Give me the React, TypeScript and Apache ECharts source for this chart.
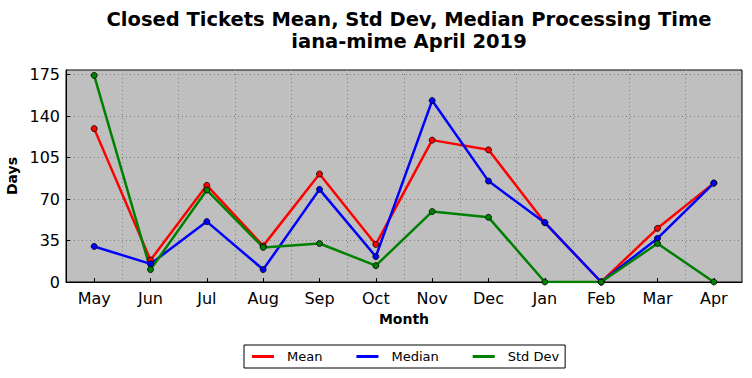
import React, { useEffect, useRef } from "react";
import * as echarts from "echarts";

const months = ["May", "Jun", "Jul", "Aug", "Sep", "Oct", "Nov", "Dec", "Jan", "Feb", "Mar", "Apr"];
const meanDays = [129.5, 18.5, 81.6, 30.5, 91.2, 31.7, 119.8, 111.6, 50.1, 0, 45.3, 83.5];
const medianDays = [30, 15.3, 51, 10.5, 78.2, 21.5, 153.2, 85.2, 50.1, 0, 36.8, 83.5];
const stdDays = [174.4, 10.5, 77.6, 29.2, 32.5, 13.8, 59.5, 54.6, 0, 0, 32.5, 0];
const yTicks = [0, 35, 70, 105, 140, 175];

export default function App() {
  const ref = useRef<HTMLDivElement>(null);
  useEffect(() => {
    if (!ref.current) return;
    const chart = echarts.init(ref.current, null, { renderer: "svg" });
    const font = "DejaVu Sans";
    const mk = (name: string, data: number[], color: string) => ({
      name,
      type: "line",
      data,
      symbol: "circle",
      symbolSize: 6,
      lineStyle: { color, width: 2.5 },
      itemStyle: { color, borderColor: "#000", borderWidth: 0.8 },
      emphasis: { disabled: true },
    });
    chart.setOption({
      animation: false,
      backgroundColor: "#fff",
      title: {
        text: "Closed Tickets Mean, Std Dev, Median Processing Time\niana-mime April 2019",
        left: 404,
        textAlign: "center",
        top: 3,
        textStyle: { fontFamily: font, fontSize: 19.5, fontWeight: "bold", color: "#000", lineHeight: 22 },
      },
      grid: {
        left: 66,
        right: 10,
        top: 70,
        bottom: 96,
        outerBoundsMode: "none",
        containLabel: false,
        show: true,
        backgroundColor: "#bfbfbf",
        borderColor: "#000",
        borderWidth: 1,
      },
      legend: {
        bottom: 10,
        left: 244,
        data: ["Mean", "Median", "Std Dev"],
        icon: "rect",
        itemWidth: 22,
        itemHeight: 3,
        itemGap: 34,
        padding: [5, 6, 5, 8],
        borderColor: "#000",
        borderWidth: 1,
        borderRadius: 0,
        itemStyle: { borderWidth: 0 },
        textStyle: { fontFamily: font, fontSize: 13, color: "#000", padding: [0, 0, 0, 8] },
      },
      xAxis: {
        type: "category",
        data: months,
        boundaryGap: true,
        name: "Month",
        nameLocation: "middle",
        nameGap: 30,
        nameTextStyle: { fontFamily: font, fontSize: 14, fontWeight: "bold", color: "#000" },
        axisLine: { show: true, lineStyle: { color: "#000" } },
        axisTick: { show: true, alignWithLabel: true, inside: true, length: 4, lineStyle: { color: "#000" } },
        axisLabel: { fontFamily: font, fontSize: 16, color: "#000", margin: 8 },
        splitLine: { show: true, lineStyle: { color: "#808080", type: [1, 3], width: 1 } },
      },
      yAxis: {
        type: "value",
        min: 0,
        max: 179,
        interval: 35,
        name: "Days",
        nameLocation: "middle",
        nameGap: 42,
        nameTextStyle: { fontFamily: font, fontSize: 14, fontWeight: "bold", color: "#000" },
        axisLine: { show: true, lineStyle: { color: "#000" } },
        axisTick: { show: true, inside: true, length: 4, lineStyle: { color: "#000" } },
        axisLabel: {
          fontFamily: font,
          fontSize: 16,
          color: "#000",
          margin: 6,
          showMaxLabel: false,
          formatter: (v: number) => (yTicks.includes(v) ? String(v) : ""),
        },
        splitLine: { show: true, lineStyle: { color: "#808080", type: [1, 3], width: 1 } },
      },
      series: [
        mk("Mean", meanDays, "#ff0000"),
        mk("Median", medianDays, "#0000ff"),
        mk("Std Dev", stdDays, "#008000"),
      ],
    });
    return () => chart.dispose();
  }, []);
  return <div ref={ref} style={{ width: 752, height: 378, position: "absolute", left: 0, top: 0 }} />;
}
